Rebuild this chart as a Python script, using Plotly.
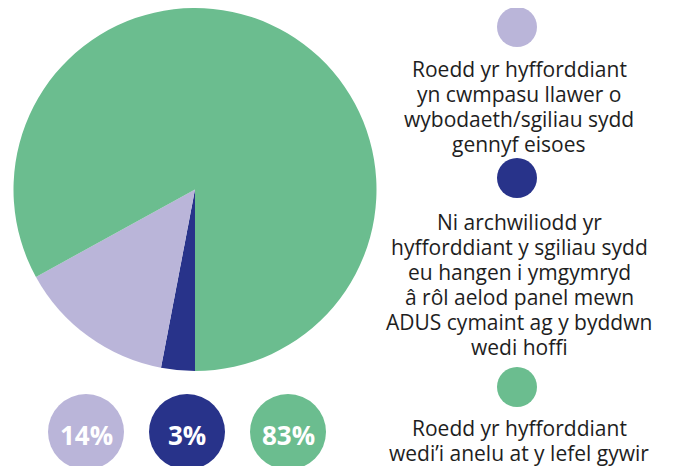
import plotly.graph_objects as go

# survey answers (Welsh), share of respondents in %
labels = [
    "Ni archwiliodd yr<br>hyfforddiant y sgiliau sydd<br>eu hangen i ymgymryd<br>â rôl aelod panel mewn<br>ADUS cymaint ag y byddwn<br>wedi hoffi",
    "Roedd yr hyfforddiant<br>yn cwmpasu llawer o<br>wybodaeth/sgiliau sydd<br>gennyf eisoes",
    "Roedd yr hyfforddiant<br>wedi’i anelu at y lefel gywir",
]
values = [3, 14, 83]
colors = ["#28338A", "#BAB5D9", "#6BBD8F"]

# order used for the legend column and the badges underneath
legend_order = [1, 0, 2]
badge_order = [1, 0, 2]

W, H = 673, 466
OFF = 8  # page body margin, so axis coords = screen pixels


def px(x):
    return (x - OFF) / W


def py(y):
    return 1 - (y - OFF) / H


fig = go.Figure()

fig.add_trace(
    go.Pie(
        labels=labels,
        values=values,
        marker=dict(colors=colors, line=dict(width=0)),
        sort=False,
        direction="clockwise",
        rotation=180,
        textinfo="none",
        hoverinfo="skip",
        showlegend=False,
        domain=dict(x=[px(13), px(377)], y=[py(371), min(1, py(7))]),
    )
)

# legend column on the right: dot above a centred text block
legend_dots_y = [27, 178, 387]
legend_text_y = [69, 222, 428]  # first line of each block
line_gap = 25
for k, i in enumerate(legend_order):
    fig.add_shape(
        type="circle", xref="x", yref="y",
        x0=517 - 20, x1=517 + 20,
        y0=legend_dots_y[k] - 20, y1=legend_dots_y[k] + 20,
        fillcolor=colors[i], line=dict(width=0),
    )
    for j, line in enumerate(labels[i].split("<br>")):
        fig.add_annotation(
            x=519, y=legend_text_y[k] + j * line_gap, xref="x", yref="y",
            text=line, showarrow=False,
            xanchor="center", yanchor="middle", align="center",
            font=dict(family="Open Sans", size=21, color="#1e1e1e"),
        )

# percentage badges under the pie
badge_x = [86, 187, 288]
for k, i in enumerate(badge_order):
    fig.add_shape(
        type="circle", xref="x", yref="y",
        x0=badge_x[k] - 38, x1=badge_x[k] + 38,
        y0=432 - 38, y1=432 + 38,
        fillcolor=colors[i], line=dict(width=0),
    )
    fig.add_annotation(
        x=badge_x[k], y=435, xref="x", yref="y",
        text=f"<b>{values[i]}%</b>", showarrow=False,
        xanchor="center", yanchor="middle",
        font=dict(family="Open Sans", size=26, color="white"),
    )

fig.update_layout(
    width=W,
    height=H,
    margin=dict(l=0, r=0, t=0, b=0),
    paper_bgcolor="white",
    plot_bgcolor="white",
    xaxis=dict(range=[OFF, OFF + W], visible=False, fixedrange=True),
    yaxis=dict(range=[OFF + H, OFF], visible=False, fixedrange=True),
)

fig.write_html("out.html")
